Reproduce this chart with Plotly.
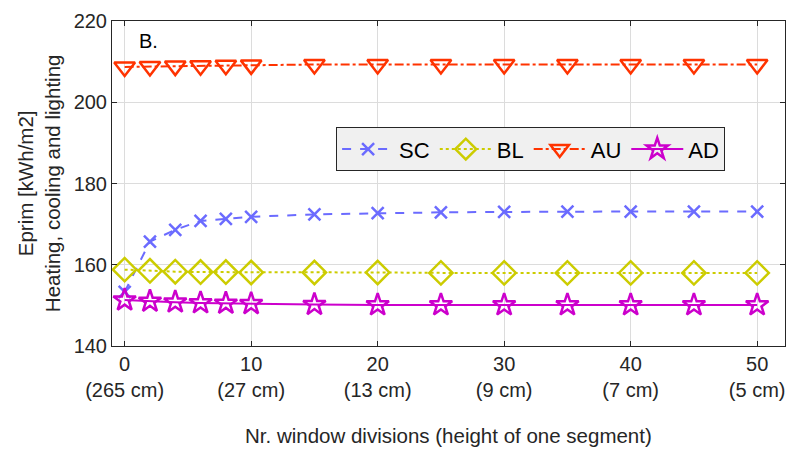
import plotly.graph_objects as go

x_vals = [0, 2, 4, 6, 8, 10, 15, 20, 25, 30, 35, 40, 45, 50]
sc = [153.3, 165.7, 168.6, 170.8, 171.3, 171.8, 172.4, 172.7, 172.9, 173.0, 173.1, 173.1, 173.1, 173.1]
bl = [158.8, 158.5, 158.3, 158.2, 158.2, 158.1, 158.1, 158.1, 158.0, 158.0, 158.0, 158.0, 158.0, 158.0]
au = [208.7, 208.8, 208.9, 209.0, 209.1, 209.2, 209.3, 209.3, 209.3, 209.3, 209.3, 209.3, 209.3, 209.3]
ad = [151.3, 151.0, 150.8, 150.6, 150.5, 150.4, 150.2, 150.1, 150.1, 150.1, 150.1, 150.1, 150.1, 150.1]

tick_vals = [0, 10, 20, 30, 40, 50]
tick_text = ["0<br>(265 cm)", "10<br>(27 cm)", "20<br>(13 cm)", "30<br>(9 cm)", "40<br>(7 cm)", "50<br>(5 cm)"]

series = [
    ("SC", sc, "#6B6BFF", "dash", "x-thin-open", 12),
    ("BL", bl, "#CCCC00", "dot", "diamond-open", 18),
    ("AU", au, "#FF3300", "dashdot", "triangle-down-open", 18),
    ("AD", ad, "#CC00CC", "solid", "star-open", 17),
]

FONT = "Liberation Sans, Arial"
fig = go.Figure()
for name, ys, col, dash, sym, size in series:
    fig.add_trace(go.Scatter(
        x=x_vals, y=ys, name=name, mode="lines+markers",
        line=dict(color=col, width=2, dash=dash),
        marker=dict(symbol=sym, size=size, color=col, line=dict(color=col, width=2.5)),
    ))

axis_common = dict(
    showline=True, linecolor="#262626", linewidth=1, mirror="ticks",
    ticks="inside", ticklen=5, tickcolor="#262626", automargin=False,
    showgrid=True, gridcolor="#DCDCDC", gridwidth=1, zeroline=False,
    tickfont=dict(family=FONT, size=20, color="#262626"),
)

fig.update_layout(
    width=792, height=449,
    margin=dict(l=112, r=7, t=21, b=103),
    paper_bgcolor="white", plot_bgcolor="white",
    font=dict(family=FONT, color="#262626"),
    xaxis=dict(range=[-1.0, 52.2], tickvals=tick_vals, ticktext=tick_text, **axis_common),
    yaxis=dict(range=[140, 220], tickvals=[140, 160, 180, 200, 220], **axis_common),
    legend=dict(orientation="h", x=0.333, y=0.673, xanchor="left", yanchor="top",
                bgcolor="#F0F0F0", bordercolor="#262626", borderwidth=1,
                font=dict(size=22, color="black"), itemwidth=52,
                tracegroupgap=0),
    annotations=[
        dict(text="B.", x=0.037, y=0.94, xref="paper", yref="paper",
             xanchor="left", yanchor="middle", showarrow=False,
             font=dict(size=20, color="black")),
        dict(text="Eprim [kWh/m2]<br>Heating, cooling and lighting",
             x=-0.109, y=0.5, xref="paper", yref="paper", textangle=-90,
             xanchor="center", yanchor="middle", showarrow=False,
             font=dict(size=20.5, color="#262626")),
        dict(text="Nr. window divisions (height of one segment)",
             x=0.5, y=-0.274, xref="paper", yref="paper",
             xanchor="center", yanchor="middle", showarrow=False,
             font=dict(size=20.5, color="#262626")),
    ],
)

fig.write_html("out.html", config={"displayModeBar": False},
               post_script="document.body.style.margin='0';")
